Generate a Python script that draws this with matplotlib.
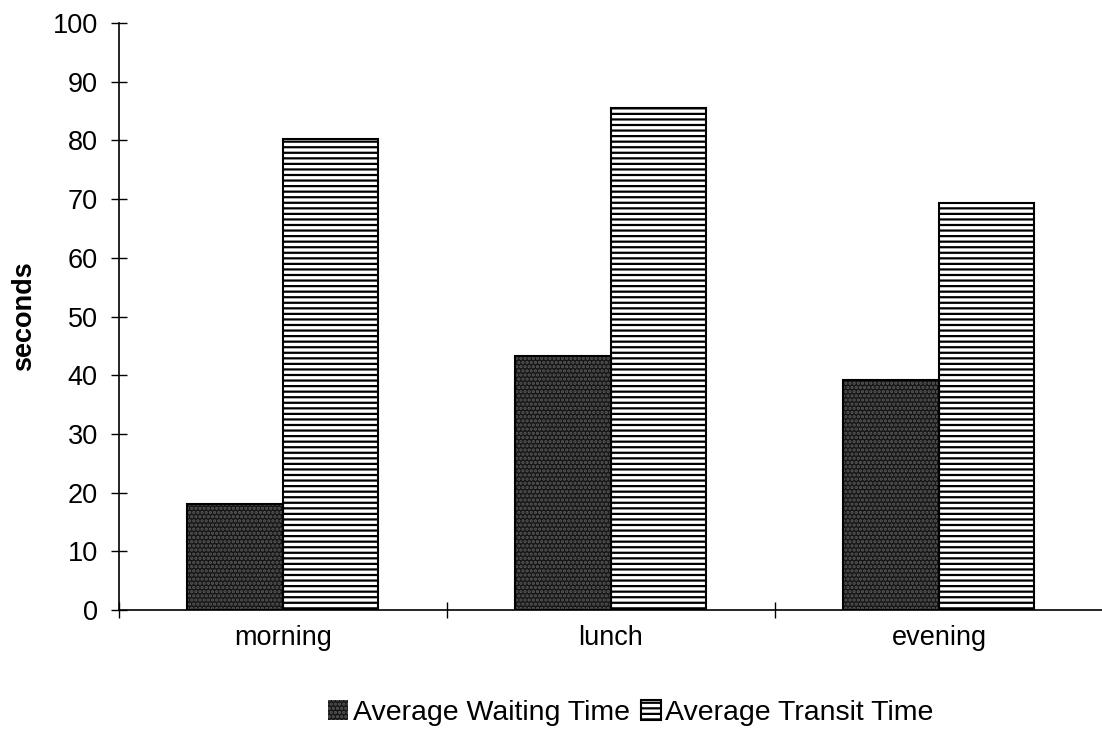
import numpy as np
import matplotlib
matplotlib.use("Agg")
import matplotlib.pyplot as plt

plt.rcParams['font.family'] = ['Liberation Sans', 'DejaVu Sans']
plt.rcParams['hatch.linewidth'] = 1.6

# data
periods = ["morning", "lunch", "evening"]
waiting = [18, 43.3, 39.2]
transit = [80.2, 85.5, 69.3]
y_ticks = list(range(0, 101, 10))

fig = plt.figure(figsize=(11.02, 7.37), dpi=100)
ax = fig.add_axes([0.1077, 0.1723, 0.8932, 0.7965])

x = np.arange(len(periods))
w = 0.291

# dark speckled bars: dark fill plus light dotted texture, then black outline
b1 = ax.bar(x - w / 2, waiting, w, color="#161616", edgecolor="#5a5a5a",
            hatch="....", linewidth=0, zorder=2)
ax.bar(x - w / 2, waiting, w, fill=False, edgecolor="black", linewidth=1.5, zorder=3)

# horizontal striped bars
b2 = ax.bar(x + w / 2, transit, w, color="white", edgecolor="black",
            hatch="---", linewidth=1.5, zorder=2)

ax.set_xlim(-0.5, 2.5)
ax.set_ylim(0, 100)
ax.set_yticks(y_ticks)
ax.tick_params(axis="y", direction="inout", length=12, width=1, labelsize=19.5, pad=9)

# category boundaries as ticks, labels in the middle
ax.set_xticks([-0.5, 0.5, 1.5, 2.5])
ax.set_xticklabels([])
ax.set_xticks(x, minor=True)
ax.set_xticklabels(periods, minor=True, fontsize=19.5)
ax.tick_params(axis="x", which="major", direction="inout", length=12, width=1)
ax.tick_params(axis="x", which="minor", length=0, pad=11)

for side in ["top", "right"]:
    ax.spines[side].set_visible(False)
ax.spines["left"].set_linewidth(1.2)
ax.spines["bottom"].set_linewidth(1.2)

ax.set_ylabel("seconds", fontsize=19.5, fontweight="bold", labelpad=11)

fig.legend([b1, b2], ["Average Waiting Time", "Average Transit Time"],
           loc="center left", bbox_to_anchor=(0.298, 0.033), ncol=2, frameon=False,
           fontsize=20.5, handlelength=0.7, handleheight=0.7,
           handletextpad=0.15, columnspacing=0.4, borderpad=0, borderaxespad=0)

plt.savefig("out.png", dpi=100)
plt.close()
